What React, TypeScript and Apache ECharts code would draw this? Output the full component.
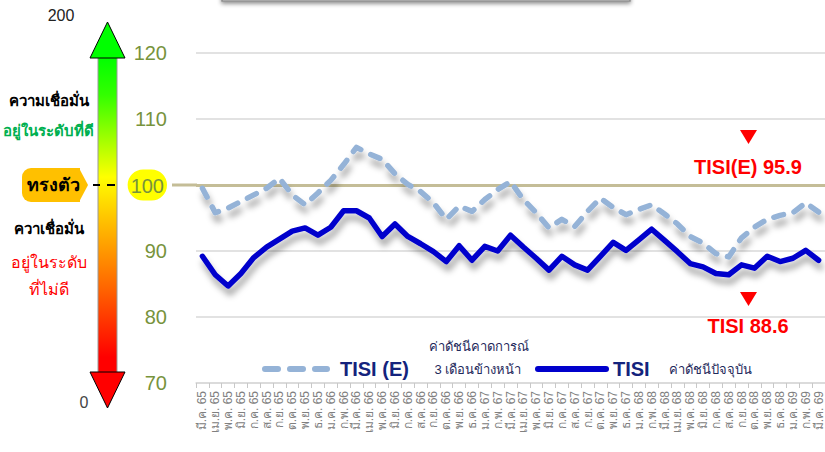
import React, { useEffect, useRef } from "react";
import * as echarts from "echarts";

const categories = [
  "มี.ค. 65", "เม.ย. 65", "พ.ค. 65", "มิ.ย. 65", "ก.ค. 65", "ส.ค. 65", "ก.ย. 65", "ต.ค. 65", "พ.ย. 65", "ธ.ค. 65",
  "ม.ค. 66", "ก.พ. 66", "มี.ค. 66", "เม.ย. 66", "พ.ค. 66", "มิ.ย. 66", "ก.ค. 66", "ส.ค. 66", "ก.ย. 66", "ต.ค. 66", "พ.ย. 66", "ธ.ค. 66",
  "ม.ค. 67", "ก.พ. 67", "มี.ค. 67", "เม.ย. 67", "พ.ค. 67", "มิ.ย. 67", "ก.ค. 67", "ส.ค. 67", "ก.ย. 67", "ต.ค. 67", "พ.ย. 67", "ธ.ค. 67",
  "ม.ค. 68", "ก.พ. 68", "มี.ค. 68", "เม.ย. 68", "พ.ค. 68", "มิ.ย. 68", "ก.ค. 68", "ส.ค. 68", "ก.ย. 68", "ต.ค. 68", "พ.ย. 68", "ธ.ค. 68",
  "ม.ค. 69", "ก.พ. 69", "มี.ค. 69",
];

const tisi = [
  89.2, 86.4, 84.7, 86.6, 89.0, 90.6, 91.8, 93.0, 93.5, 92.4, 93.6, 96.1, 96.1, 95.0, 92.2, 94.1, 92.2, 91.1, 89.9, 88.4,
  90.8, 88.6, 90.7, 90.0, 92.4, 90.6, 88.9, 87.1, 89.2, 87.9, 87.1, 89.2, 91.3, 90.1, 91.7, 93.3, 91.6, 89.9, 88.1, 87.6,
  86.6, 86.4, 87.9, 87.4, 89.2, 88.4, 88.9, 90.1, 88.6,
];

const tisiE = [
  99.5, 95.8, 96.5, 97.5, 98.5, 99.5, 101.0, 98.5, 97.0, 98.8, 100.7, 103.1, 105.7, 104.7, 103.9, 101.7, 100.1, 99.0, 97.3, 94.8,
  96.8, 96.0, 97.8, 99.3, 100.5, 97.8, 95.8, 93.5, 94.8, 93.7, 96.0, 98.0, 96.6, 95.5, 96.3, 97.0, 95.6, 94.1, 92.2, 91.2,
  89.6, 89.1, 92.0, 93.6, 94.8, 95.4, 95.8, 97.3, 95.9,
];

const yTicks = [70, 80, 90, 100, 110, 120];
const baseline = 100;

const FONT = "Arial, 'Liberation Sans', 'Noto Sans', 'DejaVu Sans', sans-serif";

export default function App() {
  const ref = useRef<HTMLDivElement>(null);

  useEffect(() => {
    if (!ref.current) return;
    const chart = echarts.init(ref.current, undefined, { renderer: "svg" });

    const lastT = tisi[tisi.length - 1];
    const lastE = tisiE[tisiE.length - 1];

    const staticGraphics: any[] = [
      // cropped top box
      {
        type: "rect",
        shape: { x: 222, y: -20, width: 408, height: 21 },
        style: { fill: "#ffffff", stroke: "#8c8c8c", lineWidth: 1.5, shadowBlur: 4, shadowOffsetY: 2, shadowColor: "rgba(0,0,0,0.45)" },
        z: 10,
      },
      // gauge: 200 / 0
      { type: "text", x: 61, y: 15, style: { text: "200", fill: "#222", font: `16px ${FONT}`, align: "center", verticalAlign: "middle" } },
      { type: "text", x: 84, y: 402, style: { text: "0", fill: "#444", font: `16px ${FONT}`, align: "center", verticalAlign: "middle" } },
      // shaft
      {
        type: "rect",
        shape: { x: 98, y: 57, width: 19, height: 316 },
        style: {
          fill: new echarts.graphic.LinearGradient(0, 0, 0, 1, [
            { offset: 0, color: "#00ff00" },
            { offset: 0.12, color: "#33ff00" },
            { offset: 0.38, color: "#ffff00" },
            { offset: 0.52, color: "#ffc000" },
            { offset: 0.72, color: "#ff6a00" },
            { offset: 0.95, color: "#ff0000" },
            { offset: 1, color: "#ff0000" },
          ]),
          stroke: "#9a9a9a",
          lineWidth: 1,
        },
      },
      { type: "polygon", shape: { points: [[107.5, 22], [90, 58], [125, 58]] }, style: { fill: "#00ff00", stroke: "#000", lineWidth: 1 } },
      { type: "polygon", shape: { points: [[90, 372], [125, 372], [107.5, 408]] }, style: { fill: "#ff0000", stroke: "#000", lineWidth: 1 } },
      // dashes at "ทรงตัว"
      { type: "line", shape: { x1: 93, y1: 185, x2: 100, y2: 185 }, style: { stroke: "#000", lineWidth: 2 } },
      { type: "line", shape: { x1: 107, y1: 185, x2: 115, y2: 185 }, style: { stroke: "#000", lineWidth: 2 } },
      // ทรงตัว badge
      { type: "rect", shape: { x: 22, y: 168, width: 58, height: 34, r: [9, 0, 0, 9] }, style: { fill: "#ffc000" } },
      { type: "polygon", shape: { points: [[79, 168], [88, 185], [79, 202]] }, style: { fill: "#ffc000" } },
      { type: "text", x: 53, y: 185, style: { text: "ทรงตัว", fill: "#000", font: `bold 18px ${FONT}`, align: "center", verticalAlign: "middle" } },
      // gauge texts
      { type: "text", x: 49, y: 100, style: { text: "ความเชื่อมั่น", fill: "#000", font: `bold 15px ${FONT}`, align: "center", verticalAlign: "middle" } },
      { type: "text", x: 48, y: 130, style: { text: "อยู่ในระดับที่ดี", fill: "#00b050", font: `bold 15px ${FONT}`, align: "center", verticalAlign: "middle" } },
      { type: "text", x: 49, y: 228, style: { text: "ควาเชื่อมั่น", fill: "#000", font: `bold 15px ${FONT}`, align: "center", verticalAlign: "middle" } },
      { type: "text", x: 49, y: 262, style: { text: "อยู่ในระดับ", fill: "#ff0000", font: `16px ${FONT}`, align: "center", verticalAlign: "middle" } },
      { type: "text", x: 49, y: 289, style: { text: "ที่ไม่ดี", fill: "#ff0000", font: `16px ${FONT}`, align: "center", verticalAlign: "middle" } },
      // annotations
      { type: "polygon", shape: { points: [[740, 130], [757, 130], [748.5, 144]] }, style: { fill: "#ff0000" } },
      { type: "text", x: 748, y: 167, style: { text: `TISI(E) ${lastE.toFixed(1)}`, fill: "#ff0000", font: `bold 20px ${FONT}`, align: "center", verticalAlign: "middle" } },
      { type: "polygon", shape: { points: [[740, 292], [757, 292], [748.5, 306]] }, style: { fill: "#ff0000" } },
      { type: "text", x: 748, y: 326, style: { text: `TISI ${lastT.toFixed(1)}`, fill: "#ff0000", font: `bold 20px ${FONT}`, align: "center", verticalAlign: "middle" } },
      // legend
      { type: "line", shape: { x1: 265, y1: 369, x2: 327, y2: 369 }, style: { stroke: "#95b3d7", lineWidth: 6, lineCap: "round", lineDash: [13, 12] } },
      { type: "text", x: 340, y: 369, style: { text: "TISI (E)", fill: "#14237d", font: `bold 20px ${FONT}`, align: "left", verticalAlign: "middle" } },
      { type: "text", x: 479, y: 346, style: { text: "ค่าดัชนีคาดการณ์", fill: "#1f2a5c", font: `13px ${FONT}`, align: "center", verticalAlign: "middle" } },
      { type: "text", x: 478, y: 369, style: { text: "3 เดือนข้างหน้า", fill: "#1f2a5c", font: `13px ${FONT}`, align: "center", verticalAlign: "middle" } },
      { type: "line", shape: { x1: 538, y1: 369, x2: 606, y2: 369 }, style: { stroke: "#0000cc", lineWidth: 6, lineCap: "round" } },
      { type: "text", x: 613, y: 369, style: { text: "TISI", fill: "#14237d", font: `bold 20px ${FONT}`, align: "left", verticalAlign: "middle" } },
      { type: "text", x: 669, y: 369, style: { text: "ค่าดัชนีปัจจุบัน", fill: "#1f2a5c", font: `13px ${FONT}`, align: "left", verticalAlign: "middle" } },
    ];

    const option: any = {
      animation: false,
      backgroundColor: "#ffffff",
      grid: { left: 196, top: 53, width: 631, height: 330, containLabel: false },
      xAxis: {
        type: "category",
        data: categories,
        boundaryGap: true,
        axisLine: { show: true, lineStyle: { color: "#d9d9d9", width: 1.5 } },
        axisTick: { show: true, length: 5, lineStyle: { color: "#c8c8c8" } },
        axisLabel: { interval: 0, rotate: 90, margin: 8, fontSize: 12, color: "#808080", fontFamily: FONT },
      },
      yAxis: {
        type: "value",
        min: yTicks[0],
        max: yTicks[yTicks.length - 1],
        interval: 10,
        axisLine: { show: false },
        axisTick: { show: false },
        splitLine: { show: true, lineStyle: { color: "#d9d9d9", width: 1.5 } },
        axisLabel: {
          margin: 29,
          fontSize: 20,
          color: "#77933c",
          fontFamily: FONT,
          formatter: (v: number) => (v === baseline ? `{hl|${v}}` : `${v}`),
          rich: {
            hl: {
              fontSize: 20,
              color: "#77933c",
              fontFamily: FONT,
              backgroundColor: "#ffff00",
              borderRadius: 16,
              padding: [6, 3, 5, 3],
            },
          },
        },
      },
      series: [
        {
          name: "TISI (E)",
          type: "line",
          data: tisiE,
          symbol: "none",
          smooth: false,
          lineStyle: {
            color: "#95b3d7",
            width: 5.5,
            type: [10, 11],
            cap: "round",
            join: "round",
            shadowColor: "rgba(0,0,0,0.35)",
            shadowBlur: 6,
            shadowOffsetX: 2,
            shadowOffsetY: 7,
          },
          markLine: {
            silent: true,
            symbol: "none",
            label: { show: false },
            lineStyle: { color: "#c4bd97", width: 3, type: "solid" },
            data: [{ yAxis: baseline }],
            z: 1,
          },
          z: 3,
        },
        {
          name: "TISI",
          type: "line",
          data: tisi,
          symbol: "none",
          smooth: false,
          lineStyle: {
            color: "#0000cc",
            width: 5.5,
            cap: "round",
            join: "round",
            shadowColor: "rgba(0,0,0,0.35)",
            shadowBlur: 6,
            shadowOffsetX: 2,
            shadowOffsetY: 7,
          },
          z: 4,
        },
      ],
      graphic: staticGraphics,
    };

    chart.setOption(option);

    const y100 = chart.convertToPixel({ yAxisIndex: 0 }, baseline) as number;
    chart.setOption({
      graphic: [
        ...staticGraphics,
        { type: "line", shape: { x1: 172, y1: y100, x2: 197, y2: y100 }, style: { stroke: "#c4bd97", lineWidth: 3 } },
      ],
    });

    return () => chart.dispose();
  }, []);

  return (
    <div
      ref={ref}
      style={{ position: "fixed", left: 0, top: 0, width: 825, height: 452, background: "#fff" }}
    />
  );
}
